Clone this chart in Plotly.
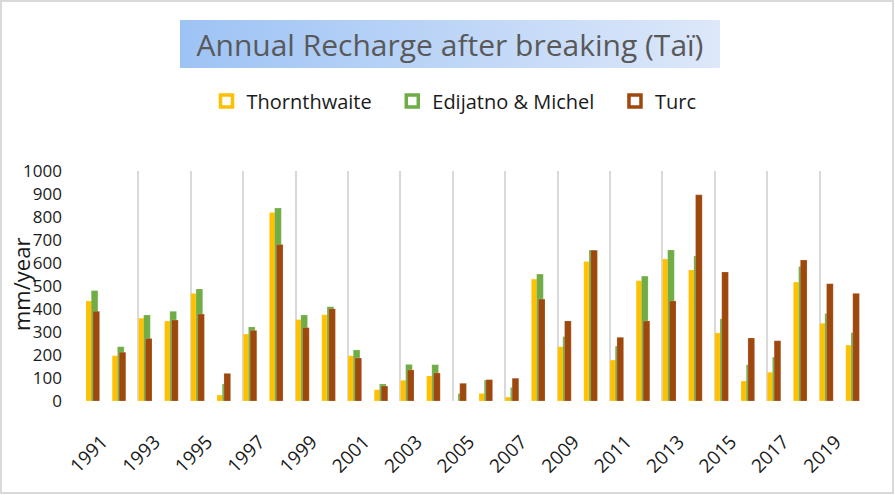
import base64
import plotly.graph_objects as go

# ====== 数据 ======
years = list(range(1991, 2021))
thornthwaite = [435, 197, 360, 348, 468, 26, 291, 820, 354, 375,
                197, 49, 90, 109, 0, 33, 17, 530, 236, 606,
                178, 523, 617, 570, 296, 87, 125, 517, 338, 243]
edijatno_michel = [480, 236, 374, 390, 487, 74, 322, 839, 374, 410,
                   222, 74, 159, 158, 32, 91, 59, 552, 280, 657,
                   239, 543, 657, 630, 357, 157, 191, 585, 380, 297]
turc = [390, 212, 272, 352, 378, 120, 307, 680, 319, 401,
        187, 65, 135, 122, 77, 93, 99, 443, 348, 655,
        277, 348, 435, 897, 561, 274, 262, 613, 510, 468]
tick_years = years[::2]
boundaries = [y - 0.5 for y in years[::2]] + [years[-1] + 0.5]

series = [
    ("Thornthwaite", thornthwaite, "#FFC000", -0.5),
    ("Edijatno & Michel", edijatno_michel, "#70AD47", -0.3),
    ("Turc", turc, "#9E480E", -0.235),
]

FONT = "Open Sans, Liberation Sans, sans-serif"

fig = go.Figure()
for name, vals, color, off in series:
    fig.add_trace(go.Bar(x=years, y=vals, name=name, marker_color=color,
                         marker_line=dict(color="rgba(255,255,255,0.35)", width=0.5),
                         width=0.255, offset=off, showlegend=False))
# 图例用空心方块
for name, vals, color, off in series:
    fig.add_trace(go.Scatter(x=[None], y=[None], mode="markers", name=name + "   ",
                             marker=dict(symbol="square-open", size=12, color=color,
                                         line=dict(width=3.5, color=color))))

# 标题渐变背景
svg = ('<svg xmlns="http://www.w3.org/2000/svg" width="540" height="48" preserveAspectRatio="none">'
       '<defs><linearGradient id="g" x1="0" y1="0" x2="1" y2="0">'
       '<stop offset="0" stop-color="rgb(157,195,245)"/><stop offset="1" stop-color="rgb(221,232,249)"/>'
       '</linearGradient></defs><rect width="540" height="48" fill="url(#g)"/></svg>')
src = "data:image/svg+xml;base64," + base64.b64encode(svg.encode()).decode()

W, H = 895, 495
L, R, T, B = 86, 23, 171, 94
pw, ph = W - L - R, H - T - B

def px(x): return (x - L) / pw
def py(y): return (H - B - y) / ph

fig.update_layout(
    width=W, height=H, barmode="overlay",
    margin=dict(l=L, r=R, t=T, b=B),
    paper_bgcolor="white", plot_bgcolor="white",
    font=dict(family=FONT, color="#262626"),
    title=dict(text="Annual Recharge after breaking (Taï)", x=450 / W, xanchor="center",
               y=1 - 45 / H, yanchor="middle", font=dict(size=30, color="#595959", family=FONT)),
    legend=dict(orientation="h", x=px(462), xanchor="center", y=py(101), yanchor="middle",
                font=dict(size=20, color="#1a1a1a"), itemwidth=30, tracegroupgap=0),
    images=[dict(source=src, xref="paper", yref="paper", x=px(180), y=py(20),
                 sizex=px(720) - px(180), sizey=py(20) - py(68), sizing="stretch",
                 xanchor="left", yanchor="top", layer="below")],
    shapes=[dict(type="rect", xref="paper", yref="paper", x0=px(1), x1=px(893), y0=py(493), y1=py(1),
                 line=dict(color="#d9d9d9", width=2), fillcolor="rgba(0,0,0,0)")],
    annotations=[dict(text="mm/year", xref="paper", yref="paper", x=px(21), y=py(285),
                      textangle=-90, showarrow=False, xanchor="center", yanchor="middle",
                      font=dict(size=22, color="#1a1a1a"))],
)
# 刻度标签略微右移，贴近原图
fig.update_xaxes(range=[1990.5, 2020.5], tickmode="array", tickvals=[y + 0.12 for y in tick_years],
                 ticktext=[str(y) for y in tick_years], tickangle=-45, showgrid=False,
                 zeroline=False, showline=False, ticks="", tickfont=dict(size=19, color="#1a1a1a"),
                 ticklabelstandoff=25,
                 minor=dict(tickmode="array", tickvals=boundaries, showgrid=True,
                            gridcolor="#d9d9d9", gridwidth=2))
fig.update_yaxes(range=[0, 1000], dtick=100, showgrid=False, zeroline=False, showline=False,
                 tickfont=dict(size=17, color="#1a1a1a"), ticklabelstandoff=23)

fig.write_html("out.html", config={"displayModeBar": False},
               post_script="document.body.style.margin='0';")
